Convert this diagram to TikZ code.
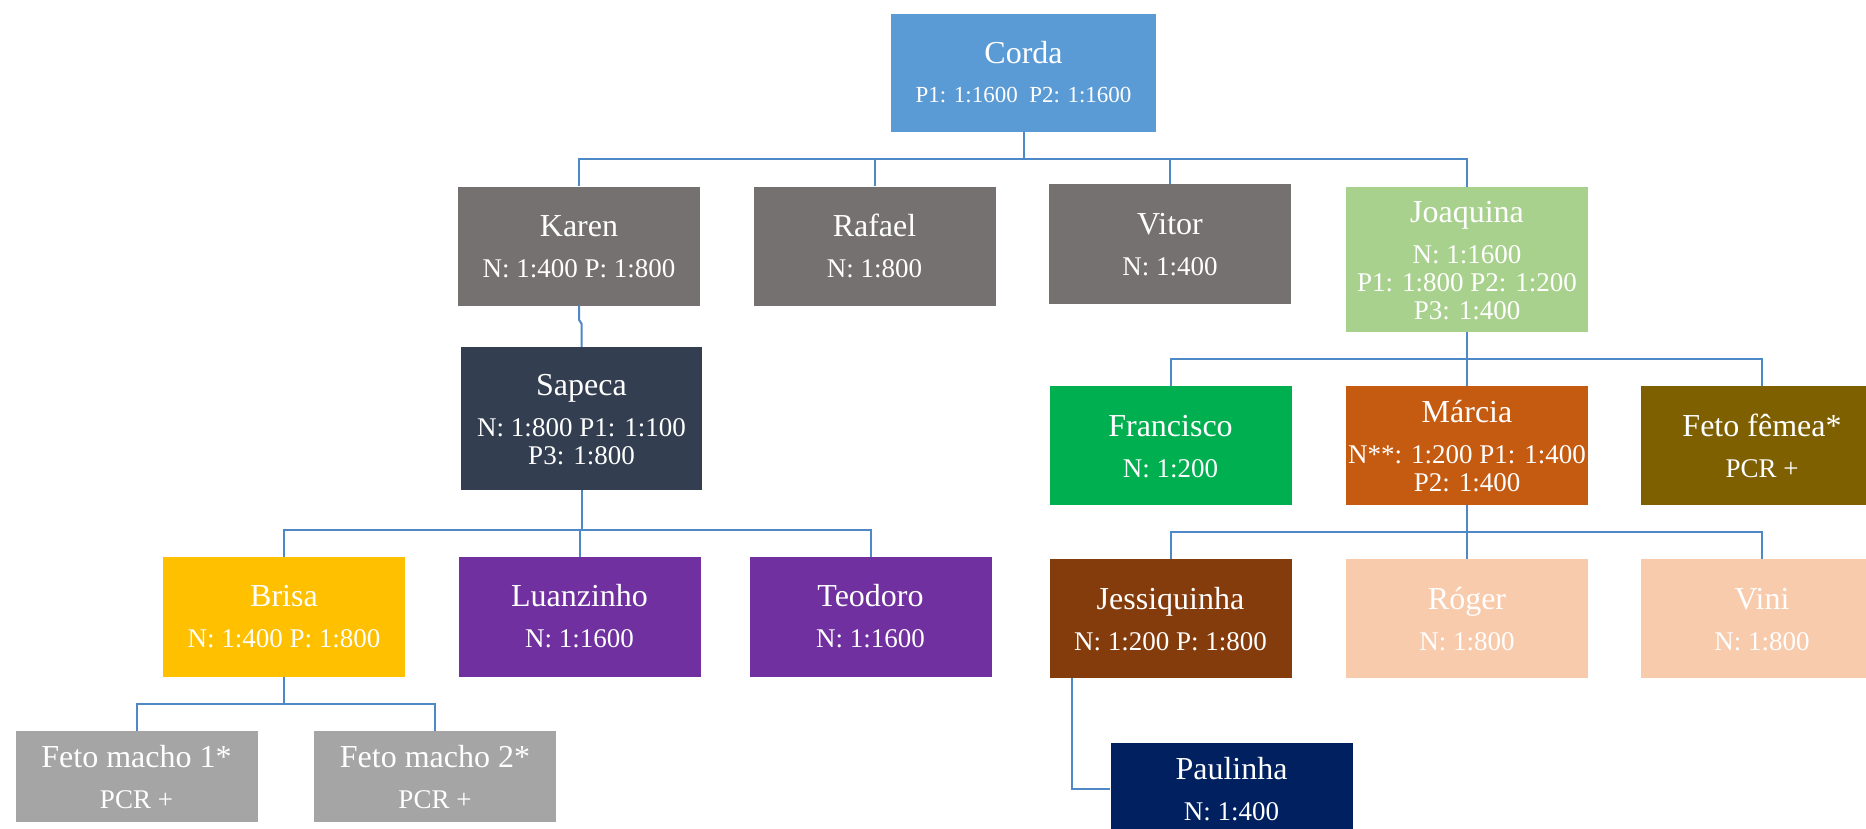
\documentclass[tikz,border=0pt]{standalone}
\usepackage{fontspec}
\setmainfont{Liberation Serif}
\definecolor{cCorda}{HTML}{5B9BD5}
\definecolor{cGray}{HTML}{767171}
\definecolor{cJoaq}{HTML}{A9D18E}
\definecolor{cSapeca}{HTML}{333F50}
\definecolor{cFran}{HTML}{00B050}
\definecolor{cMarcia}{HTML}{C55A11}
\definecolor{cFetoF}{HTML}{7F6000}
\definecolor{cBrisa}{HTML}{FFC000}
\definecolor{cPurple}{HTML}{7030A0}
\definecolor{cJess}{HTML}{843C0C}
\definecolor{cPeach}{HTML}{F8CBAD}
\definecolor{cFetoM}{HTML}{A5A5A5}
\definecolor{cPaul}{HTML}{002060}
\definecolor{lineblue}{HTML}{4F88C6}
\begin{document}
\begin{tikzpicture}[x=1pt,y=-1pt,
  box/.style={draw=none, inner sep=0pt, minimum width=242pt, minimum height=119pt},
  ttl/.style={anchor=base, text=white, inner sep=0pt, font=\fontsize{32}{36}\selectfont},
  dtl/.style={anchor=base, text=white, inner sep=0pt, font=\fontsize{27}{28}\selectfont},
  conn/.style={draw=lineblue, line width=2pt}]
\useasboundingbox (0,0) rectangle (1866,828);
\fill[white] (0,0) rectangle (1866,828);

% boxes
\node[box, fill=cCorda, minimum width=265pt, minimum height=118pt] (corda) at (1023.5,73) {};
\node[ttl] (corda-t) at (1023.5,63) {Corda};
\node[dtl, font=\fontsize{23}{26}\selectfont] (corda-d) at (1023.5,102) {P1: 1:1600~ P2: 1:1600};

\node[box, fill=cGray] (karen) at (579,246) {};
\node[ttl] (karen-t) at (579,236.6) {Karen};
\node[dtl] (karen-d) at (579,277.9) {N: 1:400 P: 1:800};

\node[box, fill=cGray] (rafael) at (874.5,246) {};
\node[ttl] (rafael-t) at (874.5,236.6) {Rafael};
\node[dtl] (rafael-d) at (874.5,277.9) {N: 1:800};

\node[box, fill=cGray, minimum height=120pt] (vitor) at (1170,244) {};
\node[ttl] (vitor-t) at (1170,234.6) {Vitor};
\node[dtl] (vitor-d) at (1170,275.9) {N: 1:400};

\node[box, fill=cJoaq, minimum height=145pt] (joaquina) at (1467,259.5) {};
\node[ttl] (joaquina-t) at (1467,222.1) {Joaquina};
\node[dtl] (joaquina-d1) at (1467,263.4) {N: 1:1600};
\node[dtl] (joaquina-d2) at (1467,291.4) {P1: 1:800 P2: 1:200};
\node[dtl] (joaquina-d3) at (1467,319.4) {P3: 1:400};

\node[box, fill=cSapeca, minimum width=241pt, minimum height=143pt] (sapeca) at (581.5,418.5) {};
\node[ttl] (sapeca-t) at (581.5,395.1) {Sapeca};
\node[dtl] (sapeca-d1) at (581.5,436.4) {N: 1:800 P1: 1:100};
\node[dtl] (sapeca-d2) at (581.5,464.4) {P3: 1:800};

\node[box, fill=cFran] (francisco) at (1170.5,445.5) {};
\node[ttl] (francisco-t) at (1170.5,436.1) {Francisco};
\node[dtl] (francisco-d) at (1170.5,477.4) {N: 1:200};

\node[box, fill=cMarcia] (marcia) at (1467,445.5) {};
\node[ttl] (marcia-t) at (1467,422.1) {Márcia};
\node[dtl] (marcia-d1) at (1467,463.4) {N**: 1:200 P1: 1:400};
\node[dtl] (marcia-d2) at (1467,491.4) {P2: 1:400};

\node[box, fill=cFetoF] (fetof) at (1762,445.5) {};
\node[ttl] (fetof-t) at (1762,436.1) {Feto fêmea*};
\node[dtl] (fetof-d) at (1762,477.4) {PCR +};

\node[box, fill=cBrisa, minimum height=120pt] (brisa) at (284,617) {};
\node[ttl] (brisa-t) at (284,606.6) {Brisa};
\node[dtl] (brisa-d) at (284,647.9) {N: 1:400 P: 1:800};

\node[box, fill=cPurple, minimum height=120pt] (luanzinho) at (579.5,617) {};
\node[ttl] (luanzinho-t) at (579.5,606.6) {Luanzinho};
\node[dtl] (luanzinho-d) at (579.5,647.9) {N: 1:1600};

\node[box, fill=cPurple, minimum height=120pt] (teodoro) at (870.5,617) {};
\node[ttl] (teodoro-t) at (870.5,606.6) {Teodoro};
\node[dtl] (teodoro-d) at (870.5,647.9) {N: 1:1600};

\node[box, fill=cJess] (jess) at (1170.5,618.5) {};
\node[ttl] (jess-t) at (1170.5,609.1) {Jessiquinha};
\node[dtl] (jess-d) at (1170.5,650.4) {N: 1:200 P: 1:800};

\node[box, fill=cPeach] (roger) at (1467,618.5) {};
\node[ttl] (roger-t) at (1467,609.1) {Róger};
\node[dtl] (roger-d) at (1467,650.4) {N: 1:800};

\node[box, fill=cPeach] (vini) at (1762,618.5) {};
\node[ttl] (vini-t) at (1762,609.1) {Vini};
\node[dtl] (vini-d) at (1762,650.4) {N: 1:800};

\node[box, fill=cFetoM, minimum height=91pt] (fm1) at (136.5,776.5) {};
\node[ttl] (fm1-t) at (136.5,767.1) {Feto macho 1*};
\node[dtl] (fm1-d) at (136.5,808.4) {PCR +};

\node[box, fill=cFetoM, minimum height=91pt] (fm2) at (435,776.5) {};
\node[ttl] (fm2-t) at (435,767.1) {Feto macho 2*};
\node[dtl] (fm2-d) at (435,808.4) {PCR +};

\node[box, fill=cPaul, minimum height=91pt] (paulinha) at (1231.5,788.5) {};
\node[ttl] (paulinha-t) at (1231.5,779.1) {Paulinha};
\node[dtl] (paulinha-d) at (1231.5,820.4) {N: 1:400};

% connectors
\coordinate (b0) at (1023.5,159);
\coordinate (b1) at (581.5,530);
\coordinate (b2) at (1467,359);
\coordinate (b3) at (1467,532);
\coordinate (b4) at (284,704);

\draw[conn] (corda.south) -- (b0);
\draw[conn] (karen.north) |- (b0) -| (joaquina.north);
\draw[conn] (rafael.north) -- (rafael.north |- b0);
\draw[conn] (vitor.north) -- (vitor.north |- b0);

\draw[conn] (karen.south) -- ++(0,14) -- ++(2.5,4) -- (sapeca.north);

\draw[conn] (sapeca.south) -- (b1);
\draw[conn] (brisa.north) |- (b1) -| (teodoro.north);
\draw[conn] (luanzinho.north) -- (luanzinho.north |- b1);

\draw[conn] (joaquina.south) -- (b2);
\draw[conn] (francisco.north) |- (b2) -| (fetof.north);
\draw[conn] (marcia.north) -- (b2);

\draw[conn] (marcia.south) -- (b3);
\draw[conn] (jess.north) |- (b3) -| (vini.north);
\draw[conn] (roger.north) -- (b3);

\draw[conn] (brisa.south) -- (b4);
\draw[conn] (fm1.north) |- (b4) -| (fm2.north);

\draw[conn] ([xshift=-98.5pt]jess.south) |- (paulinha.west);
\end{tikzpicture}
\end{document}
